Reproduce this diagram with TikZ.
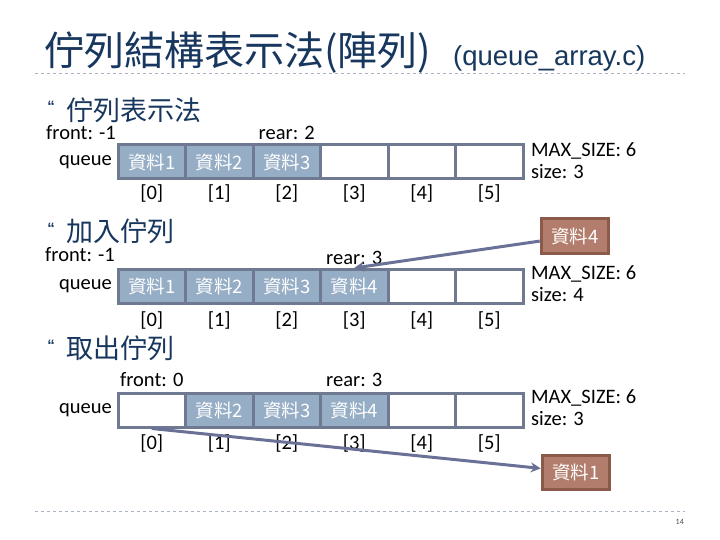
\documentclass[tikz,border=0pt]{standalone}
\usepackage{fontspec}
\setmainfont{Carlito}
\newfontfamily\cjk{Noto Sans CJK TC}
\newfontfamily\arialfont{Liberation Sans}
\usetikzlibrary{arrows.meta}
\definecolor{titleblue}{RGB}{23,55,94}
\definecolor{cellfill}{RGB}{150,173,198}
\definecolor{cellline}{RGB}{112,121,146}
\definecolor{boxfill}{RGB}{178,125,108}
\definecolor{boxline}{RGB}{140,90,74}
\definecolor{arrowc}{RGB}{106,113,150}
\definecolor{dashc}{RGB}{170,180,192}

\begin{document}
\begin{tikzpicture}[x=1pt,y=-1pt,
	every node/.style={font=\fontsize{20.5}{22}\selectfont, inner sep=0pt},
	cell/.style={draw=cellline, line width=3pt, minimum width=67.5pt, minimum height=34pt, text=white, font=\cjk\fontsize{18.5}{20}\selectfont},
	full/.style={cell, fill=cellfill},
	moved/.style={cell, fill=boxfill, draw=boxline},
	head/.style={anchor=west, text=titleblue, font=\cjk\fontsize{27}{29}\selectfont},
	dot/.style={text=titleblue, font=\arialfont\bfseries\fontsize{15}{15}\selectfont},
	mover/.style={draw=arrowc, line width=3pt, -{Stealth[length=10pt,width=10pt]}}]
	\fill[white] (0,0) rectangle (720,540);
	\useasboundingbox (0,0) rectangle (720,540);
	% title
	\node[anchor=base west, text=titleblue, font=\cjk\fontsize{40}{40}\selectfont] (title) at (44,66) {佇列結構表示法(陣列)};
	\node[anchor=base west, text=titleblue, font=\arialfont\fontsize{27.5}{28}\selectfont] (tfile) at (453,66) {(queue\_array.c)};
	\draw[dashc, dashed] (35,73) -- (685,73);
	\draw[dashc, dashed] (35,511) -- (685,511);
	\node[anchor=east, font=\fontsize{8}{8}\selectfont, text=black!70] (pg) at (684,522) {14};
	% headings
	\node[dot] (h1d) at (51,106) {“};
	\node[head] (h1) at (66,110) {佇列表示法};
	\node[dot] (h2d) at (51,228) {“};
	\node[head] (h2) at (66,231) {加入佇列};
	\node[dot] (h3d) at (51,345) {“};
	\node[head] (h3) at (66,348) {取出佇列};
	% queue 1
	\node[anchor=west] (afront) at (46,133) {front: -1};
	\node (arear) at (286.75,133) {rear: 2};
	\node[anchor=east] (aq) at (112,162) {queue};
	\foreach \i/\s/\t in {0/full/資料1,1/full/資料2,2/full/資料3,3/cell/{},4/cell/{},5/cell/{}}
		\node[\s] (a\i) at (151.75+67.5*\i,162) {\t};
	\foreach \i in {0,...,5}
		\node (ai\i) at (151.75+67.5*\i,193) {[\i]};
	\node[anchor=west, align=left] (asz) at (531,161) {MAX\_SIZE: 6\\size: 3};
	% queue 2
	\node[anchor=west] (bfront) at (45,255) {front: -1};
	\node (brear) at (354.25,258) {rear: 3};
	\node[anchor=east] (bq) at (112,286.5) {queue};
	\foreach \i/\s/\t in {0/full/資料1,1/full/資料2,2/full/資料3,3/full/資料4,4/cell/{},5/cell/{}}
		\node[\s] (b\i) at (151.75+67.5*\i,286.5) {\t};
	\foreach \i in {0,...,5}
		\node (bi\i) at (151.75+67.5*\i,320) {[\i]};
	\node[anchor=west, align=left] (bsz) at (531,284) {MAX\_SIZE: 6\\size: 4};
	\node[moved] (bnew) at (575,236) {資料4};
	\draw[mover] (bnew) -- (b3.north);
	% queue 3
	\node (cfront) at (151.75,380) {front: 0};
	\node (crear) at (354.25,380) {rear: 3};
	\node[anchor=east] (cq) at (112,410) {queue};
	\foreach \i/\s/\t in {0/cell/{},1/full/資料2,2/full/資料3,3/full/資料4,4/cell/{},5/cell/{}}
		\node[\s] (c\i) at (151.75+67.5*\i,410) {\t};
	\foreach \i in {0,...,5}
		\node (ci\i) at (151.75+67.5*\i,443) {[\i]};
	\node[anchor=west, align=left] (csz) at (531,408) {MAX\_SIZE: 6\\size: 3};
	\node[moved] (cold) at (576,472) {資料1};
	\draw[mover] (c0.south) -- (cold);
\end{tikzpicture}
\end{document}
